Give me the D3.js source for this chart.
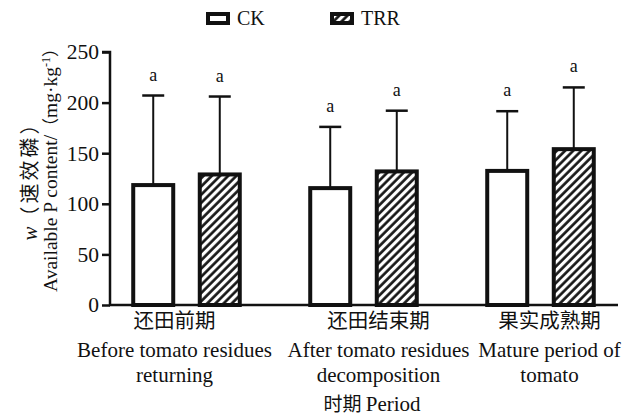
<!DOCTYPE html>
<html>
<head>
<meta charset="utf-8">
<script src="https://cdn.jsdelivr.net/npm/d3@7"></script>
<style>
  body { margin: 0; background: #fff; }
  text { font-family: "Liberation Serif", "Times New Roman", serif; fill: #111; }
  .cjk { font-family: "Noto Sans CJK SC", sans-serif; }
</style>
</head>
<body>
<div id="chart"></div>
<script>
// chart data
var periodsCn = ["还田前期", "还田结束期", "果实成熟期"];
var periodsEn = [["Before tomato residues", "returning"],
                 ["After tomato residues", "decomposition"],
                 ["Mature period of", "tomato"]];
var series = ["CK", "TRR"];
var ckValues = [118.5, 115.5, 132.5];
var trrValues = [129, 132, 154];
var ckErrTop = [207, 176, 191.5];
var trrErrTop = [206, 192, 215];
var ckLetters = ["a", "a", "a"];
var trrLetters = ["a", "a", "a"];
var yTicks = [0, 50, 100, 150, 200, 250];

var svgWidth = 640;
var svgHeight = 416;

var svg = d3.select("#chart")
  .append("svg")
  .attr("width", svgWidth)
  .attr("height", svgHeight);

// hatch pattern for TRR
var defs = svg.append("defs");
defs.append("pattern")
  .attr("id", "hatch")
  .attr("patternUnits", "userSpaceOnUse")
  .attr("width", 5.8)
  .attr("height", 5.8)
  .attr("patternTransform", "rotate(45)")
  .call(function(p) {
    p.append("rect").attr("width", 5.8).attr("height", 5.8).attr("fill", "#fff");
    p.append("line")
      .attr("x1", 1.5).attr("y1", 0).attr("x2", 1.5).attr("y2", 5.8)
      .attr("stroke", "#111").attr("stroke-width", 2.6);
  });

// scales
var x0 = d3.scaleBand()
  .domain(periodsCn)
  .range([98, 629])
  .padding(0);

var x1 = d3.scaleBand()
  .domain(series)
  .range([0, x0.bandwidth()])
  .paddingInner(0.4)
  .paddingOuter(0.53);

var y = d3.scaleLinear()
  .domain([0, 250])
  .range([305, 52]);

// rows for each bar
var rows = [];
periodsCn.forEach(function(p, i) {
  rows.push({ period: p, s: "CK", v: ckValues[i], e: ckErrTop[i], l: ckLetters[i] });
  rows.push({ period: p, s: "TRR", v: trrValues[i], e: trrErrTop[i], l: trrLetters[i] });
});

var bw = 40;
function cx(d) { return x0(d.period) + x1(d.s) + x1.bandwidth() / 2; }

// error bars
var errGroup = svg.append("g");
errGroup.selectAll("line.v")
  .data(rows)
  .enter()
  .append("line")
  .attr("x1", cx).attr("x2", cx)
  .attr("y1", d => y(d.v)).attr("y2", d => y(d.e))
  .attr("stroke", "#111").attr("stroke-width", 2);
errGroup.selectAll("line.cap")
  .data(rows)
  .enter()
  .append("line")
  .attr("x1", d => cx(d) - 11).attr("x2", d => cx(d) + 11)
  .attr("y1", d => y(d.e)).attr("y2", d => y(d.e))
  .attr("stroke", "#111").attr("stroke-width", 2.5);

// bars
svg.append("g").selectAll("rect")
  .data(rows)
  .enter()
  .append("rect")
  .attr("x", d => cx(d) - bw / 2)
  .attr("y", d => y(d.v))
  .attr("width", bw)
  .attr("height", d => y(0) - y(d.v))
  .attr("fill", d => d.s === "CK" ? "#fff" : "url(#hatch)")
  .attr("stroke", "#111")
  .attr("stroke-width", 4);

// significance letters
svg.append("g").selectAll("text")
  .data(rows)
  .enter()
  .append("text")
  .attr("x", cx)
  .attr("y", d => y(d.e) - 15)
  .attr("text-anchor", "middle")
  .style("font-size", "18px")
  .text(d => d.l);

// y axis
var leftAxis = d3.axisLeft(y).tickValues(yTicks).tickSize(8).tickPadding(3);
var yAxisG = svg.append("g")
  .attr("transform", "translate(110,0)")
  .call(leftAxis)
  .attr("font-family", null)
  .attr("font-size", null);
yAxisG.select(".domain").attr("stroke", "#111").attr("stroke-width", 2.5)
  .attr("d", "M-8," + y(250) + "H0V" + y(0));
yAxisG.selectAll(".tick line").attr("stroke", "#111").attr("stroke-width", 2.5);
yAxisG.selectAll(".tick text")
  .style("font-family", "'Liberation Serif', serif")
  .style("font-size", "21.5px")
  .attr("fill", "#111");

// x axis line
svg.append("line")
  .attr("x1", 109).attr("x2", 618)
  .attr("y1", y(0)).attr("y2", y(0))
  .attr("stroke", "#111").attr("stroke-width", 2.5);

// x category labels
var labelShift = [-12, 15, 9];
var xl = svg.append("g");
periodsCn.forEach(function(p, i) {
  var c = x0(p) + x0.bandwidth() / 2 + labelShift[i];
  xl.append("text").attr("class", "cjk")
    .attr("x", c).attr("y", 328)
    .attr("text-anchor", "middle")
    .style("font-size", "20.5px")
    .text(p);
  periodsEn[i].forEach(function(t, j) {
    xl.append("text")
      .attr("x", c).attr("y", 357 + j * 25)
      .attr("text-anchor", "middle")
      .style("font-size", "21px")
      .text(t);
  });
});

// x title
var xt = svg.append("text")
  .attr("x", 372).attr("y", 411)
  .attr("text-anchor", "middle")
  .style("font-size", "21px");
xt.append("tspan").attr("class", "cjk").style("font-size", "19px").text("时期 ");
xt.append("tspan").text("Period");

// y title (two rotated lines)
var yt1 = svg.append("text")
  .attr("transform", "translate(37,176) rotate(-90)")
  .attr("text-anchor", "middle")
  .style("font-size", "21px");
yt1.append("tspan").style("font-style", "italic").text("w");
yt1.append("tspan").attr("class", "cjk")
  .style("font-size", "20px")
  .style("letter-spacing", "3px")
  .text("（速效磷）");

var yt2 = svg.append("text")
  .attr("transform", "translate(57,166) rotate(-90)")
  .attr("text-anchor", "middle")
  .style("font-size", "19.5px");
yt2.append("tspan").text("Available P content/");
yt2.append("tspan").attr("class", "cjk").style("font-size", "17px").text("（");
yt2.append("tspan").text("mg·kg");
yt2.append("tspan").attr("dy", -7).style("font-size", "12px").text("-1");
yt2.append("tspan").attr("dy", 7).attr("class", "cjk").style("font-size", "17px").text("）");

// legend
var legendX = [208, 332];
var legend = svg.append("g");
series.forEach(function(s, i) {
  legend.append("rect")
    .attr("x", legendX[i]).attr("y", 14)
    .attr("width", 20).attr("height", 9)
    .attr("fill", s === "CK" ? "#fff" : "url(#hatch)")
    .attr("stroke", "#111").attr("stroke-width", 4);
  legend.append("text")
    .attr("x", legendX[i] + 29).attr("y", 25)
    .style("font-size", "20px")
    .text(s);
});
</script>
</body>
</html>
